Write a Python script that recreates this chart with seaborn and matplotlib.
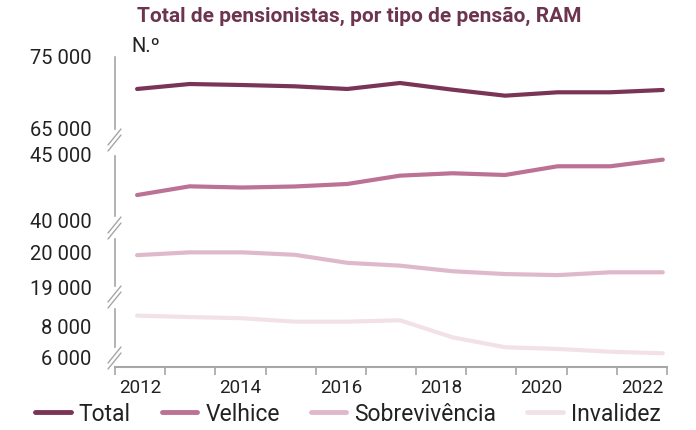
import numpy as np
import pandas as pd
import matplotlib
matplotlib.use("Agg")
import matplotlib.pyplot as plt
from matplotlib.lines import Line2D
import seaborn as sns

sns.set_style("white")
plt.rcParams['font.family'] = ['Roboto', 'DejaVu Sans']

years = [2012, 2013, 2014, 2015, 2016, 2017, 2018, 2019, 2020, 2021, 2022]
total = [70420, 71110, 70970, 70790, 70420, 71250, 70320, 69490, 69960, 69960, 70280]
velhice = [41890, 42550, 42460, 42540, 42730, 43360, 43540, 43410, 44070, 44070, 44570]
sobrevivencia = [19910, 19990, 19990, 19920, 19690, 19610, 19450, 19370, 19340, 19420, 19420]
invalidez = [8670, 8580, 8500, 8280, 8280, 8370, 7270, 6630, 6520, 6340, 6240]
series_names = ["Total", "Velhice", "Sobrevivência", "Invalidez"]
colors = ["#7a3556", "#bb7294", "#dfb9cb", "#f3e1ea"]
title = "Total de pensionistas, por tipo de pensão, RAM"
unit = "N.º"
year_labels = ["2012", "2014", "2016", "2018", "2020", "2022"]

W, H = 696, 431
fig = plt.figure(figsize=(W / 100, H / 100), dpi=100)
GRAY = "#a6a6a6"
X0, X1 = 115, 667
xlim = (-0.42, 10.08)

# panel: (axes top px, axes bottom px, hi value, hi px, lo value, lo px, spine top px, spine bottom px)
panels = [
    (50, 134, 75000, 57, 65000, 129, 58, 130, total),
    (150, 224, 45000, 155, 40000, 221, 157, 217, velhice),
    (236, 292, 20000, 253, 19000, 288, 240, 287, sobrevivencia),
    (306, 368, 8000, 327, 6000, 358, 310, 348, invalidez),
]

axes = []
for i, (tp, bp, vh, yh, vl, yl, st, sb, vals) in enumerate(panels):
    ax = fig.add_axes([X0 / W, 1 - bp / H, (X1 - X0) / W, (bp - tp) / H])
    ax.patch.set_alpha(0)
    slope = (vh - vl) / (yl - yh)
    val = lambda y, vh=vh, yh=yh, slope=slope: vh - (y - yh) * slope
    df = pd.DataFrame({"i": np.arange(len(years)), "v": vals})
    sns.lineplot(data=df, x="i", y="v", ax=ax, color=colors[i], lw=3.0,
                 solid_capstyle="round", clip_on=False)
    ax.set_ylim(val(bp), val(tp))
    ax.set_xlim(*xlim)
    ax.set_yticks([vl, vh])
    ax.set_yticklabels([f"{v:,}".replace(",", " ") for v in (vl, vh)])
    ax.tick_params(axis="y", length=0, pad=17, labelsize=14.5, labelcolor="#222222")
    ax.set_xlabel("")
    ax.set_ylabel("")
    for s in ["top", "right", "bottom"]:
        ax.spines[s].set_visible(False)
    ax.spines["left"].set_color(GRAY)
    ax.spines["left"].set_linewidth(1.2)
    ax.spines["left"].set_bounds(val(sb), val(st))
    ax.set_xticks([])
    axes.append(ax)

# bottom x axis
axb = axes[-1]
n = len(years)
bounds = np.linspace(xlim[0], xlim[1], n + 1)
centers = (bounds[:-1] + bounds[1:]) / 2
axb.spines["bottom"].set_visible(True)
axb.spines["bottom"].set_color(GRAY)
axb.spines["bottom"].set_linewidth(1.5)
axb.set_xticks(bounds)
axb.set_xticklabels([])
axb.set_xticks(centers[::2], minor=True)
axb.set_xticklabels(year_labels, minor=True)
axb.tick_params(axis="x", which="major", length=6, width=1.2, color=GRAY, direction="out")
axb.tick_params(axis="x", which="minor", length=0, pad=8, labelsize=13.5, labelcolor="#222222")
axb.xaxis.set_ticks_position("bottom")

# break marks
def brk(yc):
    for dy in (-3, 3):
        fig.add_artist(Line2D([(X0 - 7) / W, (X0 + 6) / W],
                              [1 - (yc + dy + 8) / H, 1 - (yc + dy - 8) / H],
                              color=GRAY, lw=1.0))
for yc in (141, 229, 298, 359):
    brk(yc)

fig.text(359 / W, 1 - 16 / H, title, ha="center", va="center", fontsize=15,
         fontweight="bold", color="#6d3450")
fig.text(131 / W, 1 - 46 / H, unit, ha="left", va="center", fontsize=14.5, color="#222222")

handles = [Line2D([0], [0], color=c, lw=3.5) for c in colors]
fig.legend(handles, series_names, loc="center", bbox_to_anchor=(348 / W, 1 - 415 / H),
           ncol=4, frameon=False, fontsize=16.5, handlelength=1.55, columnspacing=1.35,
           handletextpad=0.35, labelcolor="#222222", borderpad=0, borderaxespad=0)

fig.savefig("out.png", dpi=100)
